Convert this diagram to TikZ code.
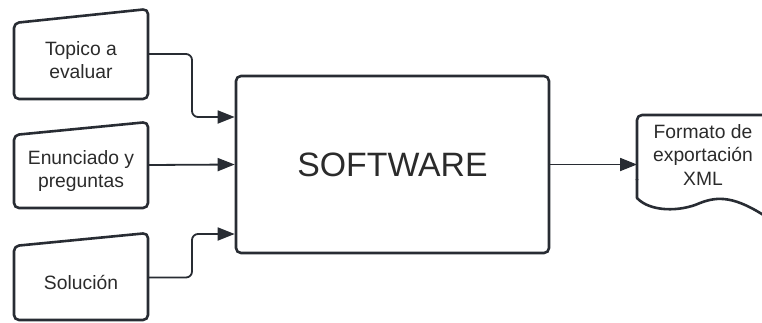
\documentclass[tikz,border=0pt]{standalone}
\usepackage{fontspec}
\setmainfont{Liberation Sans}
\usetikzlibrary{arrows.meta,calc}
\definecolor{ink}{HTML}{282C33}
\definecolor{txt}{HTML}{2B2B2B}
\tikzset{
  outline/.style={draw=ink, line width=2.6pt, line join=round},
  holder/.style={draw=none, inner sep=0pt, outer sep=0pt},
  link/.style={draw=ink, line width=1.8pt, rounded corners=6pt,
    -{Triangle[length=17pt,width=13pt]}},
  caption/.style={text=txt, font=\fontsize{19.3}{23.5}\selectfont, align=center, inner sep=0pt},
}
\begin{document}
\begin{tikzpicture}[x=1pt,y=-1pt]
\useasboundingbox (0,0) rectangle (762,322);

% input cards (manual input shape: slanted top edge)
\draw[outline, rounded corners=5pt] (14,23) -- (148,9) -- (148,99) -- (14,99) -- cycle;
\draw[outline, rounded corners=5pt] (14,135) -- (148,122) -- (148,208) -- (14,208) -- cycle;
\draw[outline, rounded corners=5pt] (14,246) -- (148,233) -- (148,320) -- (14,320) -- cycle;

\node[holder, minimum width=134pt, minimum height=90pt] (topico) at (81,54) {};
\node[holder, minimum width=134pt, minimum height=86pt] (enunciado) at (81,165) {};
\node[holder, minimum width=134pt, minimum height=86pt] (solucion) at (81,277.5) {};

\node[caption] (topicotxt) at (81,60) {Topico a\\evaluar};
\node[caption] (enunciadotxt) at (81,171) {Enunciado y\\preguntas};
\node[caption] (soluciontxt) at (81,282) {Solución};

% processing block
\node[draw=ink, line width=2.6pt, rounded corners=5pt,
      minimum width=313pt, minimum height=177pt, inner sep=0pt,
      text=txt, font=\fontsize{33.8}{40}\selectfont] (sw) at (392.5,164.5) {SOFTWARE};

% output document
\draw[outline, rounded corners=5pt] (780,115) -- (637,115) -- (637,180);
\draw[outline] (637,179) -- (637,198)
  .. controls (650,212) and (680,212) .. (700,203)
  .. controls (718,196) and (735,196) .. (768,218);
\node[holder, minimum width=140pt, minimum height=100pt, anchor=west] (doc) at (637,164.5) {};
\node[caption] (doctxt) at (703,155) {Formato de\\exportación\\XML};

% connectors
\draw[link] (topico.east) -- ++(44,0) |- ($(sw.west)+(0,-47.5)$);
\draw[link] (enunciado.east) -- (sw.west);
\draw[link] (solucion.east) -- ++(44,0) |- ($(sw.west)+(0,69.5)$);
\draw[link] (sw.east) -- (doc.west);
\end{tikzpicture}
\end{document}
